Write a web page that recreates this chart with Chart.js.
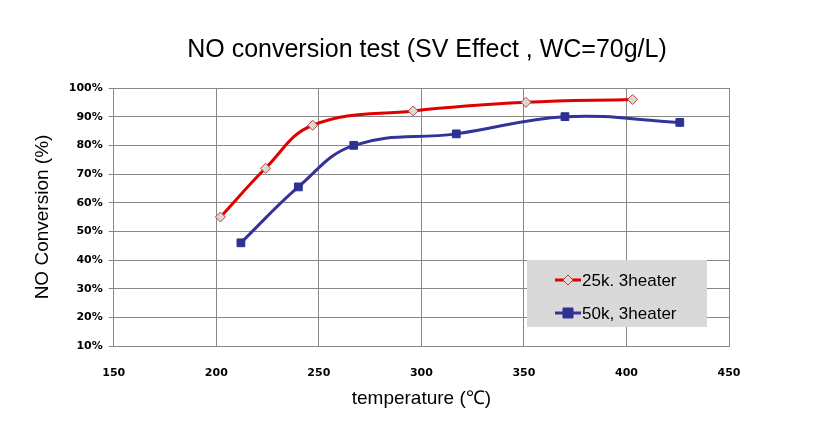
<!DOCTYPE html>
<html>
<head>
<meta charset="utf-8">
<script src="https://cdn.jsdelivr.net/npm/chart.js@4"></script>
<style>
  body { margin: 0; background: #fff; }
  #wrap { width: 827px; height: 428px; }
</style>
</head>
<body>
<div id="wrap"><canvas id="myChart" width="827" height="428"></canvas></div>
<script>
const chartTitle = "NO conversion test (SV Effect , WC=70g/L)";
const seriesNames = ["25k. 3heater", "50k, 3heater"];

const temp25k = [202, 224, 247, 296, 351, 403];
const conv25k = [55, 72, 87, 92, 95, 96];

const temp50k = [212, 240, 267, 317, 370, 426];
const conv50k = [46, 65.5, 80, 84, 90, 88];

const xTicks = [150, 200, 250, 300, 350, 400, 450];
const yTicks = [10, 20, 30, 40, 50, 60, 70, 80, 90, 100];

function toPoints(xs, ys) {
    return xs.map((x, i) => ({ x: x, y: ys[i] }));
}

// title centred on the whole canvas + legend box inside the plot (excel style)
const boxLegend = {
    id: "boxLegend",
    afterDraw(chart) {
        const ctx = chart.ctx;
        const area = chart.chartArea;
        ctx.save();
        ctx.fillStyle = "#000";
        ctx.font = "25px 'Liberation Sans', Arial, sans-serif";
        ctx.textAlign = "center";
        ctx.textBaseline = "middle";
        ctx.fillText(chartTitle, 427, 50);

        const w = 180, h = 67;
        const left = area.right - 22 - w;
        const top = area.bottom - 19 - h;
        ctx.fillStyle = "#d9d9d9";
        ctx.fillRect(left, top, w, h);
        ctx.textAlign = "left";
        chart.data.datasets.forEach((ds, i) => {
            const cy = top + 20 + i * 33;
            const cx = left + 41;
            ctx.strokeStyle = ds.borderColor;
            ctx.lineWidth = 3;
            ctx.beginPath();
            ctx.moveTo(cx - 13, cy);
            ctx.lineTo(cx + 13, cy);
            ctx.stroke();
            ctx.fillStyle = ds.pointBackgroundColor;
            ctx.strokeStyle = ds.pointBorderColor;
            ctx.lineWidth = 1;
            ctx.beginPath();
            if (ds.pointStyle === "rectRot") {
                ctx.moveTo(cx, cy - 5);
                ctx.lineTo(cx + 5, cy);
                ctx.lineTo(cx, cy + 5);
                ctx.lineTo(cx - 5, cy);
                ctx.closePath();
            } else {
                ctx.rect(cx - 5, cy - 5, 10, 10);
            }
            ctx.fill();
            ctx.stroke();
            ctx.fillStyle = "#000";
            ctx.font = "17px 'Liberation Sans', Arial, sans-serif";
            ctx.textBaseline = "middle";
            ctx.fillText(seriesNames[i], cx + 14, cy + 1);
        });
        ctx.restore();
    }
};

const data = {
    datasets: [
        {
            label: seriesNames[0],
            data: toPoints(temp25k, conv25k),
            borderColor: "#e00000",
            borderWidth: 3,
            pointStyle: "rectRot",
            pointRadius: 5,
            pointBackgroundColor: "#d4dcd4",
            pointBorderColor: "#c04040",
            pointBorderWidth: 1,
            tension: 0.4
        },
        {
            label: seriesNames[1],
            data: toPoints(temp50k, conv50k),
            borderColor: "#333399",
            borderWidth: 3,
            pointStyle: "rect",
            pointRadius: 5.5,
            pointBackgroundColor: "#2e3192",
            pointBorderColor: "#2e3192",
            pointBorderWidth: 1,
            tension: 0.4
        }
    ]
};

const tickFont = { family: "'DejaVu Sans', Verdana, sans-serif", size: 11, weight: "bold" };

const config = {
    type: "line",
    data: data,
    plugins: [boxLegend],
    options: {
        responsive: false,
        animation: false,
        layout: {
            padding: { left: 27, right: 98, top: 88, bottom: 18 }
        },
        plugins: {
            legend: { display: false },
            tooltip: { enabled: false },
            title: { display: false }
        },
        scales: {
            x: {
                type: "linear",
                min: 150,
                max: 450,
                afterBuildTicks: axis => { axis.ticks = xTicks.map(v => ({ value: v })); },
                grid: { color: "#868686", lineWidth: 1, drawTicks: false },
                border: { color: "#868686" },
                ticks: { color: "#000", font: tickFont, padding: 21 },
                title: {
                    display: true,
                    text: "temperature (℃)",
                    color: "#000",
                    font: { family: "'Liberation Sans', Arial, sans-serif", size: 19 },
                    padding: { top: -14, bottom: 0 }
                }
            },
            y: {
                min: 10,
                max: 100,
                afterBuildTicks: axis => { axis.ticks = yTicks.map(v => ({ value: v })); },
                grid: { color: "#868686", lineWidth: 1, tickLength: 5 },
                border: { color: "#868686" },
                ticks: {
                    color: "#000",
                    font: tickFont,
                    padding: 6,
                    callback: v => v + "%"
                },
                title: {
                    display: true,
                    text: "NO Conversion (%)",
                    color: "#000",
                    font: { family: "'Liberation Sans', Arial, sans-serif", size: 19 },
                    padding: { bottom: 9 }
                }
            }
        }
    }
};

const myChart = new Chart(document.getElementById("myChart"), config);
</script>
</body>
</html>
